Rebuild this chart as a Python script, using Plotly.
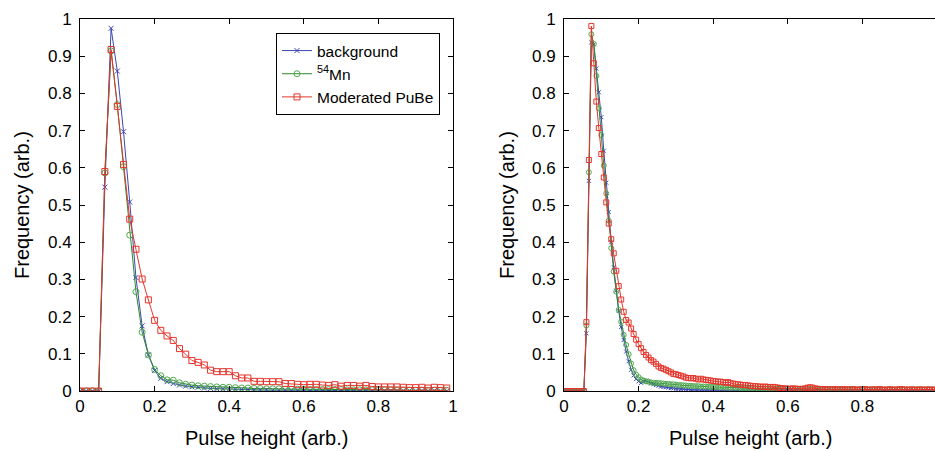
import plotly.graph_objects as go

# ---------------- data ----------------
n_left = 60
n_right = 150
x_left = [i / n_left for i in range(n_left)]
x_right = [i / n_right for i in range(n_right)]

series_names = ["background", "<sup>54</sup>Mn", "Moderated PuBe"]

left_background = [
    0, 0, 0, 0, 0.548, 0.975, 0.860, 0.697, 0.508, 0.305,
    0.175, 0.097, 0.055, 0.034, 0.025, 0.020, 0.016, 0.013, 0.011, 0.010,
    0.008, 0.007, 0.006, 0.006, 0.005, 0.005, 0.004, 0.004, 0.003, 0.003,
    0.003, 0.002, 0.002, 0.002, 0.002, 0.002, 0.001, 0.001, 0.001, 0.001,
    0.001, 0.001, 0.001, 0.001, 0.001, 0.001, 0.001, 0.001, 0.001, 0.001,
    0.001, 0.001, 0.001, 0.001, 0.000, 0.001, 0.000, 0.001, 0.000, 0.000,
]
left_mn54 = [
    0, 0, 0, 0, 0.586, 0.914, 0.770, 0.603, 0.419, 0.267,
    0.158, 0.097, 0.058, 0.041, 0.030, 0.029, 0.022, 0.018, 0.016, 0.014,
    0.013, 0.012, 0.011, 0.010, 0.010, 0.009, 0.008, 0.008, 0.007, 0.007,
    0.006, 0.006, 0.006, 0.005, 0.005, 0.005, 0.005, 0.004, 0.004, 0.004,
    0.004, 0.004, 0.004, 0.003, 0.003, 0.003, 0.003, 0.003, 0.003, 0.003,
    0.003, 0.002, 0.002, 0.002, 0.002, 0.002, 0.002, 0.002, 0.002, 0.002,
]
left_pube = [
    0, 0, 0, 0, 0.590, 0.918, 0.765, 0.609, 0.462, 0.381,
    0.301, 0.245, 0.190, 0.163, 0.148, 0.136, 0.114, 0.099, 0.082, 0.077,
    0.070, 0.056, 0.052, 0.052, 0.052, 0.041, 0.035, 0.035, 0.026, 0.026,
    0.025, 0.025, 0.025, 0.020, 0.020, 0.018, 0.017, 0.018, 0.018, 0.016,
    0.015, 0.017, 0.013, 0.015, 0.015, 0.013, 0.015, 0.012, 0.011, 0.011,
    0.011, 0.011, 0.010, 0.009, 0.009, 0.010, 0.008, 0.010, 0.009, 0.008,
]

right_background = [
    0, 0, 0, 0, 0, 0, 0, 0, 0, 0.155,
    0.565, 0.937, 0.932, 0.867, 0.803, 0.736, 0.646, 0.560, 0.481, 0.400,
    0.333, 0.270, 0.215, 0.172, 0.137, 0.106, 0.080, 0.057, 0.042, 0.032,
    0.026, 0.022, 0.025, 0.028, 0.024, 0.020, 0.018, 0.016, 0.014, 0.012,
    0.011, 0.010, 0.009, 0.008, 0.007, 0.006, 0.006, 0.005, 0.005, 0.004,
    0.004, 0.003, 0.003, 0.003, 0.003, 0.002, 0.002, 0.002, 0.002, 0.002,
    0.002, 0.002, 0.001, 0.001, 0.001, 0.001, 0.001, 0.001, 0.001, 0.001,
    0.001, 0.001, 0.001, 0.001, 0.001, 0.001, 0.001, 0.001, 0.001, 0.001,
    0.001, 0.001, 0.001, 0.001, 0.001, 0.001, 0.001, 0.001, 0.001, 0.001,
    0.001, 0.001, 0.001, 0.001, 0.001, 0.001, 0.001, 0.001, 0.001, 0.001,
    0.001, 0.001, 0.001, 0.001, 0.001, 0.001, 0.001, 0.001, 0.001, 0.001,
    0.001, 0.001, 0.001, 0.001, 0.001, 0.001, 0.001, 0.001, 0.001, 0.001,
    0.001, 0.001, 0.001, 0.001, 0.001, 0.001, 0.001, 0.001, 0.001, 0.001,
    0.001, 0.001, 0.001, 0.001, 0.001, 0.001, 0.001, 0.001, 0.001, 0.001,
    0.001, 0.001, 0.001, 0.001, 0.001, 0.001, 0.001, 0.001, 0.001, 0.001,
]
right_mn54 = [
    0, 0, 0, 0, 0, 0, 0, 0, 0, 0.176,
    0.588, 0.959, 0.933, 0.847, 0.760, 0.688, 0.606, 0.531, 0.458, 0.384,
    0.321, 0.267, 0.218, 0.186, 0.151, 0.124, 0.099, 0.074, 0.056, 0.044,
    0.037, 0.031, 0.028, 0.026, 0.025, 0.023, 0.022, 0.022, 0.021, 0.021,
    0.020, 0.019, 0.019, 0.018, 0.018, 0.017, 0.016, 0.016, 0.015, 0.015,
    0.014, 0.014, 0.013, 0.013, 0.013, 0.012, 0.012, 0.012, 0.011, 0.011,
    0.011, 0.011, 0.010, 0.010, 0.010, 0.010, 0.009, 0.009, 0.009, 0.009,
    0.009, 0.008, 0.008, 0.008, 0.008, 0.008, 0.008, 0.007, 0.007, 0.007,
    0.007, 0.007, 0.007, 0.007, 0.007, 0.006, 0.006, 0.006, 0.006, 0.006,
    0.006, 0.006, 0.006, 0.006, 0.006, 0.006, 0.005, 0.006, 0.005, 0.005,
    0.005, 0.005, 0.005, 0.005, 0.005, 0.005, 0.005, 0.005, 0.005, 0.005,
    0.005, 0.005, 0.004, 0.005, 0.005, 0.004, 0.005, 0.005, 0.004, 0.005,
    0.004, 0.005, 0.004, 0.004, 0.005, 0.004, 0.004, 0.005, 0.004, 0.004,
    0.004, 0.005, 0.004, 0.004, 0.004, 0.004, 0.005, 0.004, 0.004, 0.004,
    0.004, 0.004, 0.004, 0.005, 0.004, 0.004, 0.004, 0.004, 0.004, 0.004,
]
right_pube = [
    0, 0, 0, 0, 0, 0, 0, 0, 0, 0.185,
    0.621, 0.981, 0.881, 0.778, 0.707, 0.637, 0.574, 0.507, 0.450, 0.408,
    0.370, 0.323, 0.282, 0.246, 0.213, 0.191, 0.184, 0.168, 0.153, 0.138,
    0.126, 0.115, 0.105, 0.097, 0.090, 0.083, 0.079, 0.073, 0.066, 0.062,
    0.060, 0.057, 0.053, 0.050, 0.046, 0.045, 0.043, 0.041, 0.039, 0.036,
    0.035, 0.034, 0.035, 0.033, 0.031, 0.033, 0.031, 0.030, 0.029, 0.028,
    0.027, 0.026, 0.025, 0.025, 0.024, 0.022, 0.024, 0.021, 0.020, 0.018,
    0.018, 0.017, 0.016, 0.016, 0.015, 0.014, 0.013, 0.013, 0.012, 0.012,
    0.011, 0.012, 0.011, 0.010, 0.011, 0.010, 0.009, 0.008, 0.007, 0.007,
    0.006, 0.006, 0.007, 0.006, 0.006, 0.005, 0.006, 0.007, 0.009, 0.010,
    0.009, 0.007, 0.006, 0.005, 0.005, 0.004, 0.005, 0.004, 0.004, 0.005,
    0.004, 0.004, 0.005, 0.004, 0.004, 0.004, 0.005, 0.004, 0.003, 0.004,
    0.004, 0.005, 0.004, 0.003, 0.004, 0.004, 0.004, 0.005, 0.004, 0.003,
    0.004, 0.004, 0.004, 0.003, 0.004, 0.005, 0.004, 0.004, 0.003, 0.004,
    0.004, 0.004, 0.003, 0.004, 0.004, 0.003, 0.004, 0.004, 0.003, 0.004,
]

x_ticks_left = [0, 0.2, 0.4, 0.6, 0.8, 1]
x_tick_text_left = ["0", "0.2", "0.4", "0.6", "0.8", "1"]
x_ticks_right = [0, 0.2, 0.4, 0.6, 0.8]
x_tick_text_right = ["0", "0.2", "0.4", "0.6", "0.8"]
y_ticks = [0, 0.1, 0.2, 0.3, 0.4, 0.5, 0.6, 0.7, 0.8, 0.9, 1]
y_tick_text = ["0", "0.1", "0.2", "0.3", "0.4", "0.5", "0.6", "0.7", "0.8", "0.9", "1"]
x_title = "Pulse height (arb.)"
y_title = "Frequency (arb.)"

# ---------------- styling ----------------
W, H = 935, 451
FONT = "Liberation Sans"
blue = "#3b47b3"
green = "#2b8a2b"
green_m = "#52a852"
red = "#e5352c"

def styles(msize):
    return [
        dict(line=dict(color=blue, width=1),
             marker=dict(symbol="x-thin-open", size=msize - 1, color=blue,
                         line=dict(width=1, color=blue))),
        dict(line=dict(color=green, width=1),
             marker=dict(symbol="circle-open", size=msize, color=green_m,
                         line=dict(width=1, color=green_m))),
        dict(line=dict(color=red, width=1),
             marker=dict(symbol="square-open", size=msize, color=red,
                         line=dict(width=1, color=red))),
    ]

fig = go.Figure()
left_sets = [left_background, left_mn54, left_pube]
right_sets = [right_background, right_mn54, right_pube]
sl = styles(6)
sr = styles(5)
for k in range(3):
    fig.add_trace(go.Scatter(x=x_left, y=left_sets[k], mode="lines+markers",
                             name=series_names[k], xaxis="x", yaxis="y",
                             showlegend=True, **sl[k]))
for k in range(3):
    fig.add_trace(go.Scatter(x=x_right, y=right_sets[k], mode="lines+markers",
                             name=series_names[k], xaxis="x2", yaxis="y2",
                             showlegend=False, **sr[k]))

# pixel geometry
L1, R1 = 80, 453
L2 = 564
span = 373
TOP, BOT = 19, 391

def px(v):
    return v / W

def py(v):
    return (H - v) / H

TICK = 17
TITLE = 20

axis_common = dict(showline=True, linecolor="black", linewidth=1, ticks="inside",
                   ticklen=5, tickwidth=1, tickcolor="black", showgrid=False,
                   zeroline=False, automargin=False,
                   tickfont=dict(family=FONT, size=TICK, color="black"))

fig.update_layout(
    width=W, height=H,
    margin=dict(l=0, r=0, t=0, b=0),
    paper_bgcolor="white", plot_bgcolor="white",
    font=dict(family=FONT, size=TICK, color="black"),
    xaxis=dict(domain=[px(L1), px(R1)], range=[0, 1], anchor="y", mirror="ticks",
               tickvals=x_ticks_left, ticktext=x_tick_text_left, **axis_common),
    yaxis=dict(domain=[py(BOT), py(TOP)], range=[0, 1], anchor="x", mirror="ticks",
               tickvals=y_ticks, ticktext=y_tick_text, ticklabelstandoff=4, **axis_common),
    xaxis2=dict(domain=[px(L2), 1.0], range=[0, (W - L2) / span], anchor="y2", mirror="ticks",
                tickvals=x_ticks_right, ticktext=x_tick_text_right, **axis_common),
    yaxis2=dict(domain=[py(BOT), py(TOP)], range=[0, 1], anchor="x2", mirror=False,
                tickvals=y_ticks, ticktext=y_tick_text, ticklabelstandoff=4, **axis_common),
    legend=dict(x=px(276), y=py(33), xanchor="left", yanchor="top",
                bgcolor="white", bordercolor="black", borderwidth=1,
                font=dict(family=FONT, size=15.5, color="black"),
                tracegroupgap=0, itemwidth=30),
    annotations=[
        dict(text=x_title, xref="paper", yref="paper", x=px((L1 + R1) / 2), y=py(438),
             showarrow=False, font=dict(family=FONT, size=TITLE), xanchor="center", yanchor="middle"),
        dict(text=x_title, xref="paper", yref="paper", x=px(L2 + span / 2), y=py(438),
             showarrow=False, font=dict(family=FONT, size=TITLE), xanchor="center", yanchor="middle"),
        dict(text=y_title, xref="paper", yref="paper", x=px(22), y=py(205), textangle=-90,
             showarrow=False, font=dict(family=FONT, size=TITLE), xanchor="center", yanchor="middle"),
        dict(text=y_title, xref="paper", yref="paper", x=px(507), y=py(205), textangle=-90,
             showarrow=False, font=dict(family=FONT, size=TITLE), xanchor="center", yanchor="middle"),
    ],
)

fig.write_html("out.html")
